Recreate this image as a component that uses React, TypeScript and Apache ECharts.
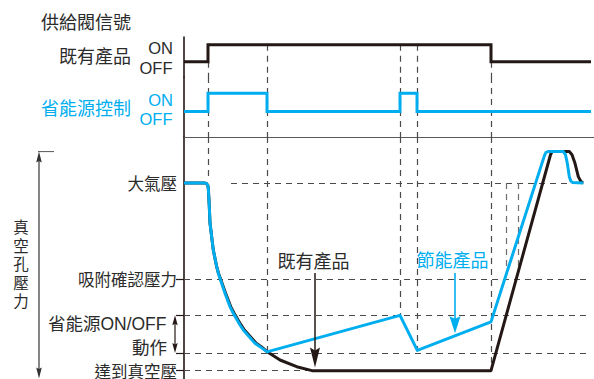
import React, { useEffect, useRef } from 'react';
import * as echarts from 'echarts';

const BLACK = '#231815';
const BLUE = '#00AEEF';
const DASH = '#4a4a4a';
const TEXT = '#2b2b2b';
const CJK = '"Noto Sans CJK TC", "Noto Sans CJK JP", sans-serif';
const LAT = '"Liberation Sans", "Noto Sans CJK TC", sans-serif';

// ---- texts ----
const TITLE = '供給閥信號';
const SIGNAL_NAMES = ['既有產品', '省能源控制'];
const STATE_LABELS = ['ON', 'OFF'];
const AXIS_TITLE = '真空孔壓力';
const LEVEL_LABELS = ['大氣壓', '吸附確認壓力', '達到真空壓'];
const ONOFF_LABEL = ['省能源ON/OFF', '動作'];
const CURVE_NAMES = ['既有產品', '節能產品'];

// ---- time axis ----
const T_MAX = 410;
const T_END = 407;
const timeMarks = [24, 83, 216, 233, 307];
const markStartExisting = [0, 1, 1, 1, 0];

// ---- signals: [t, state] 0 = OFF, 1 = ON ----
const signalExisting = [[0, 0], [24, 0], [24, 1], [307, 1], [307, 0], [T_END, 0]];
const signalSaving = [[0, 0], [24, 0], [24, 1], [83, 1], [83, 0], [216, 0], [216, 1], [233, 1], [233, 0], [T_END, 0]];

// ---- pressure levels (kPa) ----
const P_ATM = 0;
const P_CONFIRM = -46;
const P_OFF = -63.5;
const P_ON = -81.5;
const P_VAC = -90;
const P_BLOW = 15;
const LEVEL_VALUES = [P_ATM, P_CONFIRM, P_VAC];

const markEndPressure = [1, P_ON, P_OFF, -80.3, P_VAC];
const releaseMarks = [[322, -44.3], [334.3, -43.2]];
const levelLines = [[P_ATM, 47, 399.3], [P_CONFIRM, 0, T_END], [P_OFF, 0, T_END], [P_ON, 0, T_END], [P_VAC, 0, 307]];

// ---- pressure curves: [t, kPa] ----
const pressureSaving = [
  [0, 0], [20, 0], [22.5, -0.3], [23.8, -1.2], [24.3, -2.5], [25.3, -11.4], [26, -19.2], [29.3, -32.2],
  [32.7, -40.2], [34.3, -43.3], [41, -52.9], [46, -59.3], [49.3, -62.5], [56, -68.1], [59.3, -70.5],
  [71, -76.9], [76, -78.5], [83, -81], [216, -63.5], [233.3, -80.3], [307, -66.6], [360.5, 13.2],
  [362, 14.6], [364, 15], [379.3, 15], [381.5, 13.5], [383.3, 9.4], [385.3, 3], [386.7, 1], [388.5, 0.2], [399.3, 0]
];
const pressureExisting = [
  [0, 0], [20, 0], [22.5, -0.3], [23.8, -1.2], [24.3, -2.5], [25.3, -11.4], [26, -19.2], [29.3, -32.2],
  [32.7, -40.2], [34.5, -43.3], [41.6, -52.9], [46.7, -59.3], [50.1, -62.5], [57, -68.1], [60.4, -70.5],
  [72.2, -76.9], [77.2, -78.5], [84, -81.2], [96, -84.9], [112.7, -88.1], [128, -90], [307, -90],
  [366.5, 13.5], [368, 15], [385.3, 15], [388, 13.5], [391, 9.4], [394.3, 3], [396.5, 1], [398, 0.2], [399.3, 0]
];

// ---- annotation arrows: [t, from kPa, to kPa] ----
const arrowExisting = [131, -43.2, -83.7];
const arrowSaving = [271, -43.2, -68];

const dashStyle = { color: DASH, width: 1.2, type: [6, 5] };

function vSeg(t: number, a: number, b: number) {
  return [{ coord: [t, a] }, { coord: [t, b] }];
}

function dashedMarkLine(data: any[], color = DASH) {
  return {
    silent: true,
    z: 1,
    symbol: ['none', 'none'],
    label: { show: false },
    emphasis: { disabled: true },
    lineStyle: { ...dashStyle, color },
    data,
  };
}

const Y0 = [-0.9, 1.45];
const Y1 = [-1.4, 1.9];
const Y2 = [-94, 22];

function buildOption() {
  const grids = [
    { left: 184, right: 0, top: 37, height: 40 },
    { left: 184, right: 0, top: 77, height: 60 },
    { left: 184, right: 0, top: 137, height: 242 },
  ];
  const xAxis = [0, 1, 2].map((i) => ({
    type: 'value',
    gridIndex: i,
    min: 0,
    max: T_MAX,
    show: i === 1,
    position: 'bottom',
    axisLine: { show: i === 1, onZero: false, lineStyle: { color: '#5a5a5a', width: 1 } },
    axisTick: { show: false },
    axisLabel: { show: false },
    splitLine: { show: false },
  }));
  const ranges = [Y0, Y1, Y2];
  const yAxis = [0, 1, 2].map((i) => ({
    type: 'value',
    gridIndex: i,
    min: ranges[i][0],
    max: ranges[i][1],
    axisLine: { show: true, onZero: false, lineStyle: { color: BLACK, width: 1.6 } },
    axisTick:
      i === 2
        ? { show: true, customValues: [P_CONFIRM, P_OFF, P_ON, P_VAC], length: 8, lineStyle: { color: BLACK, width: 1.2 } }
        : { show: false },
    axisLabel:
      i === 2
        ? {
            show: true,
            customValues: LEVEL_VALUES,
            formatter: (v: number) => LEVEL_LABELS[LEVEL_VALUES.indexOf(v)] ?? '',
            margin: 7,
            fontSize: 16.5,
            lineHeight: 15,
            fontFamily: CJK,
            color: TEXT,
          }
        : { show: false },
    splitLine: { show: false },
  }));

  const series: any[] = [
    {
      type: 'line', xAxisIndex: 0, yAxisIndex: 0, data: signalExisting, showSymbol: false, z: 10,
      lineStyle: { color: BLACK, width: 3, join: 'miter' },
      markLine: dashedMarkLine(timeMarks.map((t, k) => vSeg(t, markStartExisting[k], Y0[0]))),
    },
    {
      type: 'line', xAxisIndex: 1, yAxisIndex: 1, data: signalSaving, showSymbol: false, z: 10,
      lineStyle: { color: BLUE, width: 3, join: 'miter' },
      markLine: dashedMarkLine(timeMarks.map((t) => vSeg(t, Y1[1], Y1[0]))),
    },
    {
      type: 'line', xAxisIndex: 2, yAxisIndex: 2, data: [], showSymbol: false,
      markLine: dashedMarkLine([
        ...timeMarks.map((t, k) => vSeg(t, Y2[1], markEndPressure[k])),
        ...levelLines.map(([p, a, b]) => [{ coord: [a, p] }, { coord: [b, p] }]),
      ]),
    },
    {
      type: 'line', xAxisIndex: 2, yAxisIndex: 2, data: [], showSymbol: false,
      markLine: dashedMarkLine(releaseMarks.map(([t, p]) => vSeg(t, P_ATM, p)), '#6e6e6e'),
    },
    {
      name: CURVE_NAMES[0], type: 'line', xAxisIndex: 2, yAxisIndex: 2, data: pressureExisting, showSymbol: false, z: 10,
      lineStyle: { color: BLACK, width: 3, join: 'round' },
    },
    {
      name: CURVE_NAMES[1], type: 'line', xAxisIndex: 2, yAxisIndex: 2, data: pressureSaving, showSymbol: false, z: 11,
      lineStyle: { color: BLUE, width: 3, join: 'round' },
    },
    {
      type: 'line', xAxisIndex: 2, yAxisIndex: 2, data: [], showSymbol: false,
      markLine: {
        silent: true, z: 12, label: { show: false }, emphasis: { disabled: true },
        symbol: ['none', 'none'],
        data: [
          [
            { coord: [arrowExisting[0], arrowExisting[1]], symbol: 'none', lineStyle: { color: BLACK, width: 1.5, type: 'solid' } },
            { coord: [arrowExisting[0], arrowExisting[2]], symbol: 'path://M5,0L10,20L5,17L0,20Z', symbolSize: [10, 20], itemStyle: { color: BLACK } },
          ],
          [
            { coord: [arrowSaving[0], arrowSaving[1]], symbol: 'none', lineStyle: { color: BLUE, width: 1.6, type: 'solid' } },
            { coord: [arrowSaving[0], arrowSaving[2]], symbol: 'path://M5,0L10,20L5,17L0,20Z', symbolSize: [11, 17], itemStyle: { color: BLUE } },
          ],
        ],
      },
    },
  ];

  return { animation: false, grid: grids, xAxis, yAxis, series };
}

function txt(text: string, x: number, y: number, fill: string, font: string, align = 'right', extra: any = {}) {
  return { type: 'text', x, y, silent: true, style: { text, fill, font, align, verticalAlign: 'middle', ...extra } };
}

function buildGraphics(px: (t: number, p: number) => number[]) {
  const axisX = px(0, 0)[0];
  const yOff = px(0, P_OFF)[1];
  const yOn = px(0, P_ON)[1];
  const yBlow = px(0, P_BLOW)[1];
  const yBottom = px(0, Y2[0])[1] - 0.5;
  const ax = axisX - 9;
  const vx = 39;
  const titleChars = AXIS_TITLE.split('');
  const els: any[] = [
    txt(TITLE, 41, 21, TEXT, `18px ${CJK}`, 'left'),
    txt(SIGNAL_NAMES[0], 131, 55, TEXT, `18px ${CJK}`),
    txt(STATE_LABELS[0], 173, 48, TEXT, `16.5px ${LAT}`),
    txt(STATE_LABELS[1], 172.5, 68, TEXT, `16.5px ${LAT}`),
    txt(SIGNAL_NAMES[1], 131, 106.5, BLUE, `18px ${CJK}`),
    txt(STATE_LABELS[0], 173, 99.5, BLUE, `16.5px ${LAT}`),
    txt(STATE_LABELS[1], 172.5, 118.5, BLUE, `16.5px ${LAT}`),
    ...titleChars.map((c, k) => txt(c, 21, 226 + k * 18.5, TEXT, `15.5px ${CJK}`, 'center', { lineHeight: 15 })),
    txt(ONOFF_LABEL[0], 166.5, 324, TEXT, `17.5px ${LAT}`),
    txt(ONOFF_LABEL[1], 167, 346.5, TEXT, `17.5px ${CJK}`),
    txt(CURVE_NAMES[0], 277.5, 259.5, TEXT, `18px ${CJK}`, 'left'),
    txt(CURVE_NAMES[1], 416.5, 259, BLUE, `18px ${CJK}`, 'left'),
    // ON/OFF hysteresis double arrow
    { type: 'line', silent: true, shape: { x1: ax, y1: yOff + 6, x2: ax, y2: yOn - 6 }, style: { stroke: BLACK, lineWidth: 1.2 } },
    { type: 'polygon', silent: true, shape: { points: [[ax, yOff], [ax + 2.7, yOff + 10], [ax, yOff + 8.5], [ax - 2.7, yOff + 10]] }, style: { fill: BLACK } },
    { type: 'polygon', silent: true, shape: { points: [[ax, yOn], [ax + 2.7, yOn - 10], [ax, yOn - 8.5], [ax - 2.7, yOn - 10]] }, style: { fill: BLACK } },
    // vertical pressure axis arrow
    { type: 'line', silent: true, shape: { x1: vx, y1: yBlow + 6, x2: vx, y2: yBottom - 6 }, style: { stroke: '#444', lineWidth: 1.3 } },
    { type: 'line', silent: true, shape: { x1: vx - 1, y1: yBlow, x2: vx + 15, y2: yBlow }, style: { stroke: '#555', lineWidth: 1 } },
    { type: 'polygon', silent: true, shape: { points: [[vx, yBlow], [vx + 2.8, yBlow + 11], [vx, yBlow + 9.5], [vx - 2.8, yBlow + 11]] }, style: { fill: '#333' } },
    { type: 'polygon', silent: true, shape: { points: [[vx, yBottom], [vx + 2.8, yBottom - 11], [vx, yBottom - 9.5], [vx - 2.8, yBottom - 11]] }, style: { fill: '#333' } },
  ];
  return els;
}

export default function App() {
  const ref = useRef<HTMLDivElement>(null);
  useEffect(() => {
    if (!ref.current) return;
    const chart = echarts.init(ref.current, undefined, { renderer: 'svg' });
    chart.setOption(buildOption() as any);
    const px = (t: number, p: number) => chart.convertToPixel({ gridIndex: 2 } as any, [t, p]) as number[];
    chart.setOption({ graphic: buildGraphics(px) } as any);
    return () => chart.dispose();
  }, []);
  return (
    <div
      ref={ref}
      style={{ position: 'fixed', left: 0, top: 0, width: 594, height: 379, background: '#fff' }}
    />
  );
}
